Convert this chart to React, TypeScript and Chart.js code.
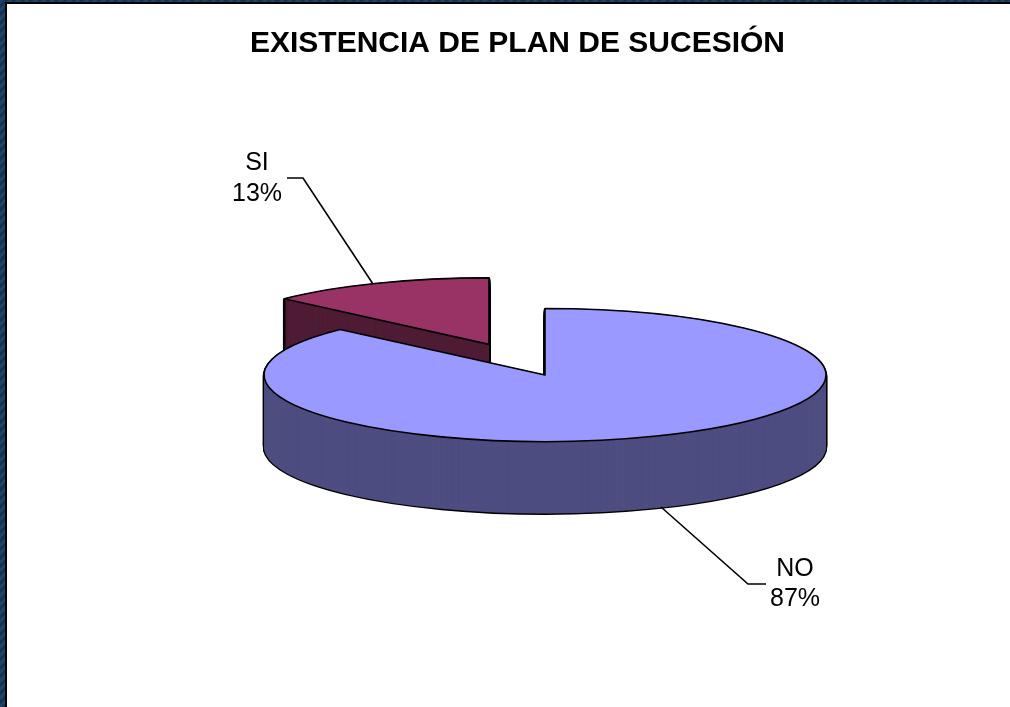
import React, { useEffect, useRef } from "react";
import { Chart, registerables } from "chart.js";

Chart.register(...registerables);

const categories = ["NO", "SI"];
const values = [87, 13];
const topColors = ["#9999FF", "#993366"];
const wallColors = ["#4D4D80", "#4F1C35"];
const explode = [0, 141];
const titleText = "EXISTENCIA DE PLAN DE SUCESIÓN";

const FONT = '"Liberation Sans", Arial, sans-serif';
const TILT = 0.2367;
const DEPTH = 72;
const SHIFT_X = 27.5;

// label anchors in canvas pixels: [text x, first line y, second line y], leader polyline
const labelLayout: Record<string, { x: number; y1: number; y2: number; line: number[][] }> = {
  NO: { x: 788, y1: 565, y2: 595, line: [[759, 580], [741, 580], [654, 503]] },
  SI: { x: 250, y1: 159, y2: 190, line: [[280, 174], [296, 174], [366, 280]] },
};

const pie3d = {
  id: "pie3d",
  beforeDatasetsDraw(chart: any) {
    const ctx: CanvasRenderingContext2D = chart.ctx;
    const arcs = chart.getDatasetMeta(0).data;
    const dpr = chart.currentDevicePixelRatio || 1;

    const paint = (i: number, dy: number, color: string, stroke: number) => {
      const arc = arcs[i];
      const saved = arc.options;
      const mid = (arc.startAngle + arc.endAngle) / 2;
      ctx.save();
      ctx.translate(arc.x + SHIFT_X, arc.y + dy);
      ctx.scale(1, TILT);
      ctx.translate(-arc.x, -arc.y);
      ctx.translate(Math.cos(mid) * explode[i], Math.sin(mid) * explode[i]);
      arc.options = { ...saved, backgroundColor: color };
      arc.draw(ctx);
      arc.options = saved;
      ctx.restore();
      if (stroke > 0) {
        ctx.save();
        ctx.setTransform(1, 0, 0, 1, 0, 0);
        ctx.lineWidth = stroke * dpr;
        ctx.strokeStyle = "#000";
        ctx.lineJoin = "round";
        ctx.stroke();
        ctx.restore();
      }
    };

    // far (exploded) slice first, then the large slice in front of it
    [1, 0].forEach((i) => {
      for (let d = DEPTH; d >= 1; d--) paint(i, d, wallColors[i], 2.6);
      for (let d = DEPTH; d >= 1; d--) paint(i, d, wallColors[i], 0);
      paint(i, 0, topColors[i], 1.6);
    });
    return false;
  },
  afterDraw(chart: any) {
    const ctx: CanvasRenderingContext2D = chart.ctx;
    const total = values.reduce((a, b) => a + b, 0);
    ctx.save();
    ctx.strokeStyle = "#000";
    ctx.lineWidth = 1.6;
    ctx.fillStyle = "#000";
    ctx.font = `25px ${FONT}`;
    ctx.textAlign = "center";
    ctx.textBaseline = "middle";
    categories.forEach((name, i) => {
      const l = labelLayout[name];
      ctx.beginPath();
      l.line.forEach(([x, y], k) => (k ? ctx.lineTo(x, y) : ctx.moveTo(x, y)));
      ctx.stroke();
      ctx.fillText(name, l.x, l.y1);
      ctx.fillText(`${Math.round((values[i] / total) * 100)}%`, l.x, l.y2);
    });
    ctx.restore();
  },
};

export default function App() {
  const ref = useRef<HTMLCanvasElement | null>(null);
  useEffect(() => {
    const chart = new Chart(ref.current as HTMLCanvasElement, {
      type: "pie",
      data: {
        labels: categories,
        datasets: [{ data: values, backgroundColor: topColors, borderWidth: 0 }],
      },
      options: {
        responsive: false,
        animation: false,
        radius: 281,
        layout: { padding: { bottom: 19 } },
        plugins: {
          legend: { display: false },
          tooltip: { enabled: false },
          title: {
            display: true,
            text: titleText,
            color: "#000",
            font: { family: FONT, size: 30, weight: "bold" },
            padding: { top: 22, bottom: 0 },
          },
        },
      } as any,
      plugins: [pie3d],
    });
    return () => chart.destroy();
  }, []);

  return (
    <div
      style={{
        position: "absolute",
        left: 0,
        top: 0,
        width: 1010,
        height: 707,
        overflow: "hidden",
        background: "repeating-linear-gradient(135deg,#1E4468 0 3px,#143352 3px 6px)",
      }}
    >
      <div style={{ position: "absolute", left: 5, top: 2, width: 1100, height: 800, background: "#000" }} />
      <canvas
        ref={ref}
        width={1021}
        height={703}
        style={{ position: "absolute", left: 7, top: 4, background: "#fff", display: "block" }}
      />
    </div>
  );
}
